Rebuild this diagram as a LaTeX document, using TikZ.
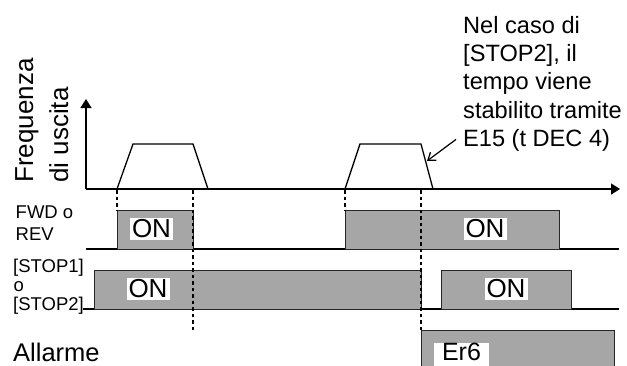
\documentclass[tikz,border=0pt]{standalone}
\usepackage{fontspec}
\setmainfont{Liberation Sans}
\usetikzlibrary{arrows.meta}
\definecolor{sigfill}{HTML}{A6A6A6}
\begin{document}
\begin{tikzpicture}[x=1pt,y=-1pt,
  axis/.style={line width=1.5pt, -{Triangle[length=9pt,width=11pt]}},
  ramp/.style={line width=1.3pt, line join=miter},
  rowline/.style={line width=1.4pt},
  sig/.style={draw=black!85, line width=0.9pt, fill=sigfill},
  guide/.style={line width=1.5pt, dash pattern=on 3.5pt off 3pt},
  lbl/.style={inner sep=0pt, anchor=base west, font=\fontsize{18.5}{18.5}\selectfont},
  big/.style={inner sep=0pt, anchor=base west, font=\fontsize{26}{26}\selectfont},
  note/.style={inner sep=0pt, anchor=base west, font=\fontsize{23.6}{23.6}\selectfont},
  onlbl/.style={fill=white, inner xsep=2pt, inner ysep=1.5pt, font=\fontsize{26}{26}\selectfont},
]
\useasboundingbox (0,0) rectangle (627,365);
\clip (0,0) rectangle (627,365);

% axes
\coordinate (origin) at (86,189);
\coordinate (ytip) at (86,99);
\coordinate (xtip) at (620,189);
\draw[axis] (origin) -- (ytip);
\draw[axis] (origin) -- (xtip);

% ramps
\draw[ramp] (117,189) -- (133,144) -- (193,144) -- (208,189);
\draw[ramp] (345,189) -- (360,144) -- (421,144) -- (433,189);
\coordinate (ramptip) at (427,161);

% FWD row
\draw[rowline] (86,249) -- (619,249);
\draw[sig] (117,210.7) rectangle (193,249);
\draw[sig] (345,210.7) rectangle (559,249);

% STOP row
\draw[rowline] (83,309) -- (619,309);
\draw[sig] (94,270.7) rectangle (421,309);
\draw[sig] (441,270.7) rectangle (571,309);

% alarm
\draw[sig] (421,330.7) rectangle (614,380);

% guides
\draw[guide] (117,190) -- (117,210);
\draw[guide] (193,190) -- (193,330);
\draw[guide] (345,190) -- (345,210);
\draw[guide] (421,190) -- (421,330);

% ON labels
\node[onlbl] (on1) at (151.5,229) {ON};
\node[onlbl] (on2) at (485,229) {ON};
\node[onlbl] (on3) at (148,289) {ON};
\node[onlbl] (on4) at (506,289) {ON};
\node[fill=white, inner xsep=8pt, inner ysep=0.5pt, text depth=6pt, anchor=north,
      font=\fontsize{25}{25}\selectfont] (er6) at (461.5,342.5) {Er6};

% left labels
\node[big, rotate=90] (freq1) at (33,183) {Frequenza};
\node[big, rotate=90] (freq2) at (68,183) {di uscita};
\node[lbl] (fwd1) at (15.5,218) {FWD o};
\node[lbl] (fwd2) at (15.5,240) {REV};
\node[lbl] (stop1) at (13,272) {[STOP1]};
\node[lbl] (stop2) at (13.5,291) {o};
\node[lbl] (stop3) at (13,310) {[STOP2]};
\node[big, font=\fontsize{25.5}{25.5}\selectfont] (alarm) at (13,361) {Allarme};

% annotation
\node[note] (n1) at (463,33) {Nel caso di};
\node[note] (n2) at (463,61) {[STOP2], il};
\node[note] (n3) at (463,89.5) {tempo viene};
\node[note] (n4) at (463,118) {stabilito tramite};
\node[note] (n5) at (463,146.5) {E15 (t DEC 4)};
\draw[line width=1.2pt, -{Straight Barb[length=7pt,width=10pt]}] ([xshift=-7pt,yshift=1pt]n5.west) -- (ramptip);
\end{tikzpicture}
\end{document}
